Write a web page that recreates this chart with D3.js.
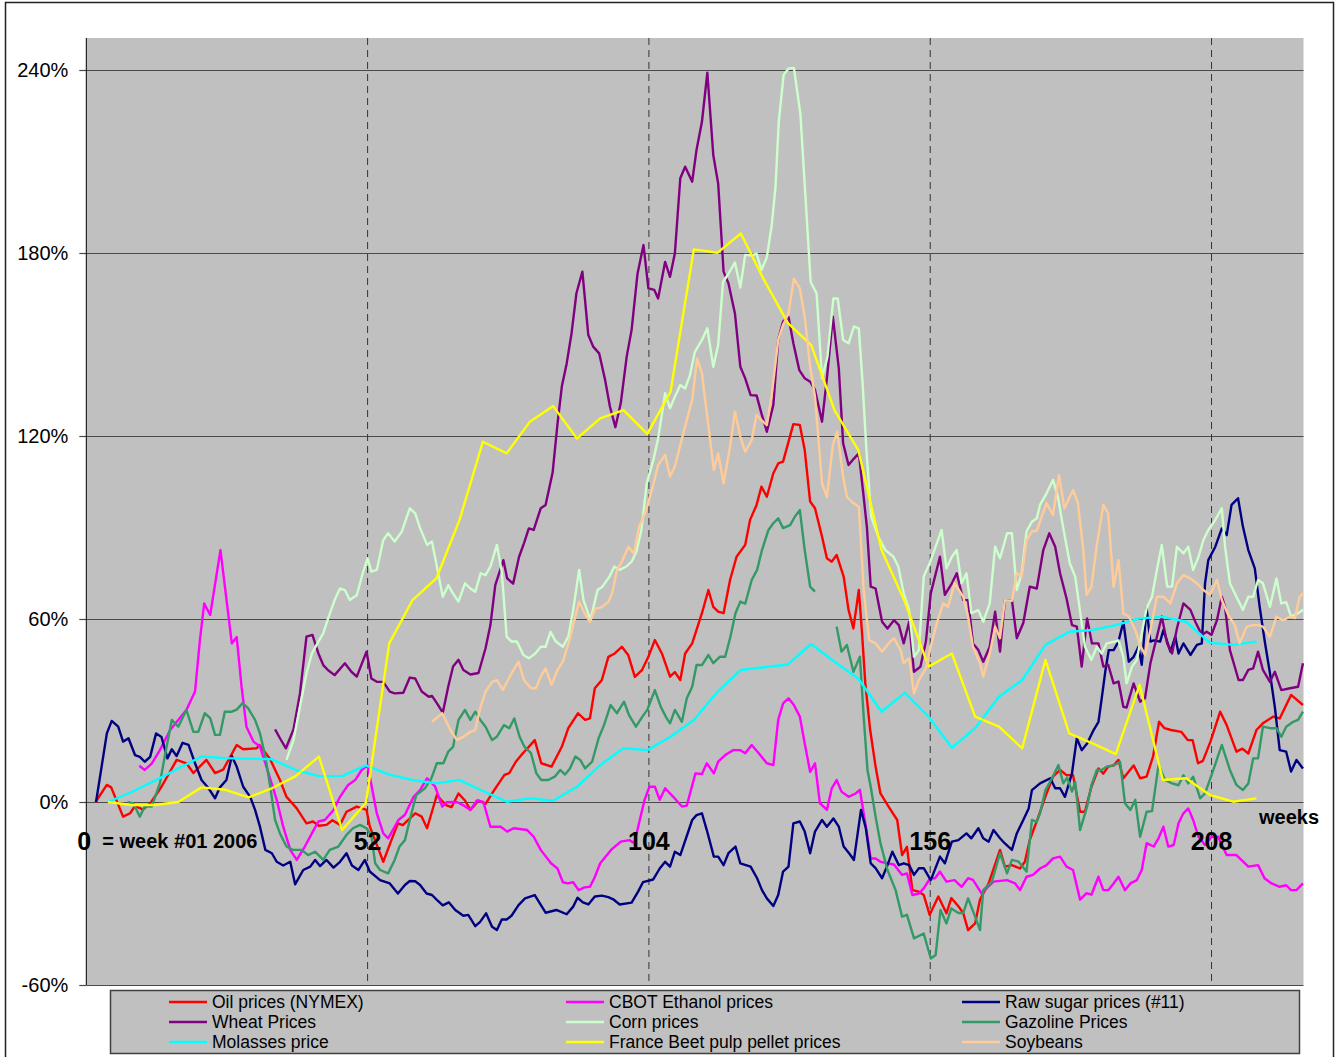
<!DOCTYPE html>
<html>
<head>
<meta charset="utf-8">
<script src="https://cdn.jsdelivr.net/npm/d3@7"></script>
<style>
  body { margin: 0; background: #fff; }
  svg { display: block; font-family: Arial, "Liberation Sans", sans-serif; }
</style>
</head>
<body>
<div id="graf"></div>
<script>
// semanas de las series mensuales (melaza y pulpa de remolacha)
const semanasMes = [4, 8.3, 12.7, 17, 21.3, 25.7, 30, 34.3, 38.7, 43, 47.3, 51.7, 56, 60.3, 64.7, 69, 73.3, 77.7, 82, 86.3,
  90.7, 95, 99.3, 103.7, 108, 112.3, 116.7, 121, 125.3, 129.7, 134, 138.3, 142.7, 147, 151.3, 155.7, 160, 164.3, 168.7, 173,
  177.3, 181.7, 186, 190.3, 194.7, 199, 203.3, 207.7, 212, 216.3];

const melaza = [0, 3.2, 7, 11, 14.9, 14.4, 14.2, 14, 10.5, 8.5, 8.5, 12, 9, 7.2, 6.1, 7.2, 3.6, 0.1, 1.2, 0.4,
  5, 12.1, 17.6, 17, 21.4, 26.9, 36.2, 43.3, 44.2, 45.1, 51.8, 46, 40.5, 29.6, 35.8, 28, 17.8, 24.2, 34.5, 40,
  51.5, 55.8, 56.4, 58, 60.2, 60.7, 59.1, 52.2, 51.5, 52.6];

const pulpa = [0, -1, -1, 0, 4.8, 4, 1.5, 4.5, 8.5, 14.9, -9.2, -0.2, 52, 66.2, 73.3, 92.5, 118.1, 114.3, 124.7, 129.8,
  119.2, 125.8, 128.5, 120.7, 134.5, 181.2, 180.1, 186.4, 171.1, 157, 149.8, 128.5, 115.4, 82.6, 65.7, 44.4, 48.7, 28, 24.7, 17.6,
  46.6, 22.5, 19.2, 15.7, 38.4, 7.2, 7.8, 2.3, 0.1, 1.2];

// series semanales: [semana, %]
const petroleo = [[1.7,0],[3.8,5.6],[4.6,4.8],[6.8,-4.8],[8.1,-3.7],[9,-1.3],[10.5,-2.5],[12,0],[13.9,5],[16.7,13.8],[18.5,12.7],
  [19.8,9.5],[22.2,13.8],[23.8,9.5],[25.3,10.6],[27.8,18.7],[29,17.3],[31.5,17.6],[32,18.7],[33.9,14.3],[35.8,7.2],[37,1.7],
  [38.9,-2.1],[40.7,-7],[41.9,-6.4],[43,-7.8],[44.4,-7.5],[45.5,-6],[46.9,-7.5],[48.1,-3.2],[50,-1.5],[51.8,-2.6],[52.4,-8],
  [54.9,-19.6],[56.4,-12.5],[57.6,-7],[58.5,-7.6],[60.8,-3.7],[62,-4.8],[63,-8.6],[64.8,2.3],[65.7,0.5],[66.6,-1.1],[67.5,-1.7],
  [68.8,2.8],[70,0.5],[71,-2.6],[72.5,0.5],[73.8,-0.6],[75.4,3.9],[77.3,8.9],[78.2,9.5],[79.4,13.2],[80.7,16],[81.6,17.7],
  [82.9,20.3],[84.1,12.7],[86,11.6],[87.9,18.1],[89.1,24.2],[90.9,29.1],[92.2,26.9],[93.1,27.4],[94,37.3],[95.3,40],[96.5,47.6],
  [97.7,48.7],[99,50.9],[100.2,48.1],[101.4,41],[102.7,43.2],[103.9,47.6],[105.1,53.1],[106.4,48.7],[107.9,41.1],[108.8,42.6],
  [109.8,40],[110.7,48.7],[112,52],[113.8,61.9],[115,69.5],[115.9,64],[116.8,62.4],[117.8,61.9],[119,72.8],[120.2,80.4],
  [121.8,84.3],[122.7,92.5],[123.9,97.4],[124.8,103.4],[125.8,100.1],[127,107.8],[127.9,111],[128.8,111.6],[130.7,123.9],
  [131.9,123.6],[132.8,115.4],[133.8,98.5],[134.7,96.3],[136,87],[136.9,79.9],[137.8,78.8],[138.7,81],[140,73.9],[140.9,63],
  [141.8,56.9],[142.8,69.5],[143.4,55.3],[144,38.9],[144.9,23.6],[145.9,11.6],[146.8,2.8],[148.3,-1.5],[149.9,-5.9],[150.8,-17.4],
  [151.7,-14.7],[152.7,-28.9],[153.9,-29.4],[154.8,-30.5],[155.9,-37],[157.5,-31],[159,-36.5],[159.9,-31.5],[161.2,-34.2],
  [162.1,-36.4],[163,-42],[164.3,-39.8],[165.2,-32],[166.8,-26.7],[168.9,-15.7],[169.8,-21.2],[171.1,-20.7],[172.6,-21.8],
  [173.5,-19.6],[174.4,-12.5],[176,-4.8],[177.5,2.8],[178.7,8.3],[180,10.5],[181.2,8.8],[182.4,8.8],[183.7,-3.2],[184.6,-3.2],
  [185.8,5],[187.1,11],[188,9.3],[188.9,11.6],[189.9,12],[190.8,13.8],[191.7,7.8],[193.6,12],[194.8,7.8],[196,8.3],[197.2,15],
  [198.3,26.3],[199.3,24.2],[200.5,23.6],[202.4,23],[203.6,20.3],[204.5,20.3],[205.5,12.7],[206.4,13.5],[207.8,19.8],
  [209.6,29.6],[210.8,25.2],[212.6,16.5],[213.7,17.5],[214.8,15.9],[216.3,23.6],[217.5,25.8],[219.4,28],[220.6,27.4],
  [222.7,35.1],[224.9,31.8]];

const etanol = [[9.8,11.9],[10.8,10.5],[12.1,12.6],[13.6,17],[15.5,23.6],[17,26.9],[18.5,30.2],[20.1,36.2],[21,53.1],[21.8,65.1],
  [22.9,61.3],[24.8,82.6],[26.9,52],[27.8,54.1],[28.7,37.8],[29.6,24.7],[30.9,19.8],[32.1,18.2],[33.6,9.9],[35.2,0.7],[36.4,-8.1],
  [37.7,-15.7],[38.9,-19],[40.4,-14.6],[41.7,-10.3],[42.9,-6.4],[44.1,-5.9],[45.7,-2.6],[46.9,1.7],[48.4,5.6],[49.7,7.2],
  [50.9,10.5],[52,12.1],[53.7,-3.7],[54.9,-10.3],[55.8,-11.9],[57.7,-5.9],[58.9,-4.2],[60.5,1.7],[61.7,3.9],[63,7.8],[64.5,5],
  [65.8,-1.5],[66.6,-0.1],[68.5,0],[69.7,-1.1],[71,-2.6],[72.2,0.5],[73.4,0],[74.7,-8.1],[76.6,-8.1],[77.8,-9.7],[79,-8.6],
  [81.5,-9.2],[82.7,-11.4],[84,-15.7],[85.9,-20.1],[87.1,-21.8],[88.1,-26.3],[89,-26.7],[90,-26.3],[91,-28.9],[92.1,-28],
  [93.1,-27.8],[93.9,-25],[95,-20.1],[97,-15.7],[98.8,-13],[100.4,-12.5],[101.3,-13.5],[102.3,-6],[103.2,0.7],[104.1,5],
  [105.1,5],[106,0.7],[107,4.5],[108.5,1.7],[110.1,-1.5],[111,-1.2],[112.6,9.4],[113.8,9.2],[114.7,12.7],[116,9.4],[116.8,13.2],
  [118.1,15.4],[119.6,17],[120.9,17],[121.8,16],[123,18.7],[124.3,16],[125.8,12.7],[127,12.1],[127.9,26.9],[128.8,32.3],
  [129.8,34],[130.8,31.8],[131.9,28],[132.8,19.2],[133.8,9.9],[134.7,12.7],[135.6,-0.4],[136.9,-2.6],[137.8,4.5],[138.7,7.2],
  [139.6,3.4],[140.9,1.7],[142.2,2.8],[143,4],[143.7,-3.7],[144.4,-11.4],[145,-18.5],[145.9,-18.5],[146.8,-19.6],[148.1,-20.1],
  [149.3,-20.5],[150.8,-23.9],[151.7,-23.4],[152.7,-30.5],[153.9,-30],[154.8,-28.3],[156,-25],[156.9,-25],[157.8,-22.8],
  [159,-26.1],[160.5,-25.6],[161.8,-27.8],[163,-25],[163.9,-25.5],[165.5,-30],[166.4,-28.3],[167.7,-26.1],[170.2,-25.6],
  [171.7,-26.7],[172.6,-28.9],[173.8,-24.5],[175,-23.9],[176.3,-21.8],[177.5,-20.7],[178.7,-18.5],[180,-17.9],[181.2,-21.2],
  [182.4,-22.3],[183.7,-32],[184.9,-29.9],[185.8,-30.4],[187.1,-24.5],[188,-28.9],[188.9,-28.9],[189.9,-26.7],[190.8,-24.5],
  [192,-28.9],[193,-26.7],[194.2,-25.6],[195.1,-22.3],[196,-13.5],[197.3,-14.6],[198.2,-11.9],[199.1,-8.1],[200,-14.6],
  [201,-14.1],[201.9,-7],[202.8,-3.7],[203.7,-2.1],[204.6,-5.9],[205.6,-11.4],[206.8,-14.1],[208,-11.4],[209.2,-11.4],
  [210.8,-17.4],[212.6,-17.4],[214.8,-21.2],[216.6,-20.7],[217.8,-25],[219.1,-26.7],[220.6,-27.8],[221.8,-27.3],[222.7,-28.9],
  [223.7,-28.9],[224.9,-26.7]];

const azucar = [[1.8,0],[3.8,22.5],[4.7,26.6],[5.9,24.7],[6.8,19.8],[7.8,20.9],[9,15.4],[9.9,14.8],[10.8,13.2],[11.8,14.8],
  [12.9,22.5],[13.9,21.3],[15,14.3],[15.8,17.3],[16.7,15.1],[17.8,19.4],[18.9,18.7],[20.1,12.7],[21.3,7.2],[22.6,4.5],[23.8,1.2],
  [24.7,4.8],[25.9,7.2],[26.9,15.1],[27.8,11.6],[29,5],[30.3,1.7],[31.2,-2.6],[32.1,-8.1],[33.1,-15.7],[34.3,-16.8],[35.2,-19.6],
  [36.4,-20.8],[37.7,-19.6],[38.6,-27],[40.1,-22.3],[41.4,-21.2],[42.3,-19],[43.2,-21],[44.4,-19],[45.7,-21.5],[46.9,-19.6],
  [48.1,-16.8],[49.1,-20.8],[50.3,-22.3],[51.5,-19],[52.4,-22.8],[54.3,-25.6],[56.1,-26.7],[57.6,-30],[58.9,-27.2],[59.8,-25.9],
  [60.8,-26],[61.7,-27.2],[62.9,-30],[63.9,-30.5],[64.8,-32.1],[65.9,-33.9],[67,-32.9],[68.2,-35.4],[69.7,-37.3],[70.6,-37],
  [71.9,-40.7],[72.8,-39.3],[73.9,-36.5],[75,-40.9],[75.9,-42],[76.8,-38.5],[77.7,-38.5],[78.6,-37.3],[79.9,-33.8],[81.1,-31.6],
  [82.9,-30.5],[84.9,-36.3],[86.9,-35.4],[88.8,-36.8],[90,-34.3],[90.8,-31.4],[91.8,-32.9],[92.8,-33.6],[94,-31],[95.3,-30.7],
  [96.5,-31.2],[97.4,-31.9],[98.6,-33.6],[100.8,-33],[102,-29.4],[102.9,-26.3],[104.8,-25.4],[106,-21.8],[107,-19.6],
  [107.9,-21.2],[108.8,-16.3],[109.8,-17.4],[112,-5.9],[112.8,-4.3],[113.8,-3.7],[114.7,-9.2],[116,-17.9],[116.8,-17.9],
  [117.8,-20.7],[118.7,-16.8],[120,-14.6],[120.9,-20.1],[122.8,-21.2],[124,-25],[124.9,-28.9],[125.8,-31.6],[127,-34.1],
  [127.9,-30.5],[128.8,-22.8],[129.8,-21.2],[130.7,-7],[131.9,-6.4],[132.8,-9.7],[133.8,-16.8],[134.7,-9.7],[136,-5.9],
  [136.9,-8.1],[138.1,-5.4],[139.1,-8.1],[140,-14.6],[141,-16.8],[141.9,-19],[143.2,-2.6],[144.1,-8.6],[145,-20.1],[145.9,-21.7],
  [147.1,-25],[148.1,-20.7],[149,-16.3],[150.2,-20.7],[151.1,-20.1],[152.1,-20.7],[153,-23.9],[153.9,-21.7],[154.8,-21.7],
  [156.1,-25.6],[157.8,-17.9],[158.7,-20.1],[160,-13],[161.2,-12.5],[162.7,-10.3],[163.6,-11.9],[164.9,-8.6],[165.8,-11.9],
  [166.8,-13],[167.7,-9.2],[168.9,-11.9],[169.8,-13.6],[171.1,-15.7],[172,-10.3],[173.2,-5.9],[174.2,-2.1],[174.8,3.9],
  [176.3,6.1],[178.2,7.8],[179.1,4.5],[180,4.5],[180.9,1.7],[182.2,9.4],[183.1,20.9],[184,17],[185,19.2],[186.2,23.6],
  [187.1,26.3],[187.7,34],[188.4,43.3],[189,49.8],[189.9,49.8],[190.8,52.6],[191.7,59.1],[192.7,46],[193.6,47.6],[194.5,50.9],
  [195.1,45],[196,63.5],[196.7,52.6],[197.3,53],[198.5,52.6],[199.1,56.4],[200.4,49.3],[201.3,54.2],[201.9,48.7],[202.8,52],
  [204.1,48.2],[205.3,51.5],[206.2,52],[206.8,71.7],[207.4,79.3],[208.7,83.7],[209.9,89.7],[210.8,87.5],[211.7,97.4],
  [212.9,99.6],[213.8,90.3],[214.8,82.6],[216,76.6],[216.9,64],[217.8,53.1],[218.8,42.2],[219.7,31.2],[220.6,17],[221.8,16.5],
  [222.7,10],[223.7,13.8],[224.9,11]];

const trigo = [[34.9,23.8],[35.8,20.9],[36.9,17.6],[38.3,23.8],[39.5,35.6],[40.7,54.2],[41.8,54.8],[42.9,48.7],[43.8,44.9],
  [44.7,43.2],[45.9,41.6],[47.8,45.5],[49,42.7],[50,41.1],[51.8,49.3],[52.7,40.5],[53.7,39.4],[54.9,39.4],[56.1,36.2],[57,35.6],
  [58.6,35.8],[59.8,40.8],[60.8,40.5],[62,36.2],[63.3,34.5],[63.9,34.8],[64.8,32.4],[65.9,29.3],[66.9,37.8],[67.8,44.4],
  [68.8,46.6],[69.7,43.3],[71,41.8],[72.5,42.3],[73.8,50.4],[74.7,58],[75.6,71.1],[77.1,79.3],[77.8,73.3],[78.9,71.6],[80,80.4],
  [80.9,84.8],[81.8,89.7],[82.7,89.2],[84,96.3],[84.9,97.4],[86.2,108],[87.1,124],[87.9,136.2],[88.8,143.8],[89.7,153.7],
  [90.6,166.8],[91.7,173.9],[92.8,153.1],[93.7,149.3],[94.8,147.1],[95.9,138.4],[96.8,129.6],[97.8,122.9],[98.8,130.8],
  [99.9,146.1],[100.8,154.8],[101.9,173.3],[103,182.6],[103.9,168.4],[105,167.9],[105.7,165.1],[107,177.1],[107.9,172.2],
  [108.8,179.9],[109.8,204.5],[110.7,208.3],[112,203.4],[112.8,213.8],[113.8,223],[114.8,239.1],[115.9,212.1],[116.8,202.8],
  [117.8,173.9],[118.7,170.1],[119.9,160.2],[120.9,142.7],[121.8,138.9],[122.8,133.4],[123.9,133.3],[124.8,127.4],[125.8,121.4],
  [127,130.2],[127.9,151.5],[128.8,157.5],[129.8,159.1],[130.7,150.4],[131.8,141.6],[132.8,138.9],[133.8,137.8],[134.7,135.1],
  [136,124.7],[136.9,138.9],[138,159.1],[139.1,142.2],[139.9,117.6],[140.9,110.5],[141.9,112.6],[142.8,114.3],[143.7,100],
  [144.3,90],[145,70.6],[145.9,70],[147.1,59.1],[148.1,56.9],[149.3,59.6],[150.2,58],[151.1,52],[152.1,59.1],[153,42.7],
  [154.2,44.4],[155.2,52.6],[156.1,68.4],[157.8,80.4],[158.7,67.9],[160,71.7],[160.9,75],[162.1,66.2],[163,66.2],[163.9,52],
  [164.9,49.8],[165.8,46],[167,50.9],[168,62.4],[168.9,49.3],[169.8,66.2],[171.1,66.2],[172,53.7],[173.2,58.7],[174.4,70.6],
  [175.7,70],[176.9,82.6],[178,88.1],[179.1,83.7],[180,75],[181.2,66.7],[182.2,58],[183.1,57.5],[184,44.4],[185,60.2],[185.9,52],
  [187.1,52],[188,44.4],[188.9,45],[189.9,38.9],[190.8,39.5],[191.7,31.2],[192.3,31],[193.6,38.9],[194.8,32.9],[195.7,34],
  [196.7,45.5],[197.9,54.2],[198.8,60.8],[199.8,52],[200.7,48.7],[201.6,56.9],[202.8,65.1],[204.1,63],[205,59.1],[206.2,54.8],
  [207.1,55.8],[208,54.8],[209,59.6],[209.9,67.3],[210.5,64],[211.4,49.8],[213,40],[213.8,40],[214.8,43.3],[215.7,43.8],
  [216.6,49.3],[217.5,43.3],[218.8,39.4],[219.7,42.7],[220.9,36.7],[222.5,37.3],[224,37.8],[224.9,45.5]];

const maiz = [[37,13.8],[38.3,20.3],[39.5,31.2],[40.7,42.2],[41.7,48.7],[42.9,52.6],[43.8,55.3],[44.7,60.2],[45.9,66.2],
  [46.9,70],[47.8,69.5],[48.7,66.2],[50,67.8],[51.1,75],[52,79.9],[52.7,75.5],[53.7,76.1],[54.9,85.9],[55.8,88.1],[57,85.4],
  [58.3,88.6],[59.8,96.3],[60.8,94.6],[61.7,89.8],[63,84.3],[63.9,85.4],[64.8,77.2],[65.9,67.3],[66.9,71.1],[67.8,68.3],
  [68.8,65.7],[70,71.7],[71,70],[71.9,68.9],[72.9,75],[73.8,74.4],[74.7,77.2],[75.9,84.3],[76.8,75.5],[77.7,54.2],[78.6,52.6],
  [79.6,52.6],[80.8,48.2],[81.8,47.1],[83,48.7],[84,50.9],[84.9,50.9],[85.8,55.8],[86.8,52.6],[88.1,50.9],[89.1,54.2],[90,63],
  [91.1,76.1],[91.9,66.2],[93.2,59.7],[94.5,69.5],[95.4,70.6],[96.7,73.9],[97.6,77.2],[98.6,76.1],[99.8,77.2],[100.8,78.8],
  [101.7,82.1],[102.6,89.2],[103.6,104.5],[104.8,112],[105.7,119.2],[107,134],[107.9,129.1],[108.8,132.9],[109.8,136.7],
  [110.7,135.6],[111.6,140],[112.5,147.6],[113.8,151.5],[114.8,155.3],[115.9,142.7],[116.8,149.8],[117.7,170.5],[118.7,173.2],
  [119.9,176.9],[120.9,168.7],[121.8,179.4],[123,179.2],[123.9,179.8],[124.8,174.4],[125.8,178.6],[126.7,189.1],[127.4,201.7],
  [128,223],[128.9,238.4],[129.8,240.5],[130.8,240.7],[132,225.6],[132.9,199.5],[133.9,170.5],[135,166.7],[136,138.9],
  [137,145.9],[138.1,165.1],[138.9,165.1],[139.9,151.5],[140.9,150.4],[141.9,155.9],[142.8,155.3],[143.5,137.3],[144.2,115.4],
  [145.1,93.6],[146.4,87],[147.7,82.6],[149.2,80.4],[150.1,77.2],[151.1,68.4],[152.1,63],[153,47.6],[153.9,49.8],[154.8,73.9],
  [155.9,78.3],[157,83.7],[158.1,89.2],[159,76.6],[160,80.4],[160.9,82.6],[161.8,71.7],[162.7,75],[163.6,61.9],[164.9,62.9],
  [165.8,59.1],[167,65.1],[168,83.7],[168.9,79.9],[170.2,88.1],[171.1,88.1],[172,69.5],[172.9,75],[173.8,88.7],[174.8,91.9],
  [175.7,93],[176.3,97.4],[177.5,101.2],[178.7,105.6],[179.6,100.1],[180.6,89.7],[181.8,78.3],[182.8,73.9],[183.7,62.4],
  [184.6,50.9],[185.8,46.6],[186.8,50.9],[187.7,48.7],[188.6,52],[189.9,52.5],[190.8,53],[191.7,47.6],[192.3,38.9],[193.3,44.4],
  [194.2,46.6],[195.1,55.3],[196,63.5],[197,67.3],[197.9,76.1],[198.8,84.3],[199.8,70.6],[200.7,70.6],[201.6,83.7],[202.8,81.5],
  [203.7,83.7],[204.6,76.1],[205.6,80.4],[206.5,85.9],[207.4,89.2],[208.7,92.5],[209.9,96.3],[210.5,83.7],[211.4,71.7],
  [212.6,67.3],[213.8,63],[214.8,67.3],[215.7,67.3],[216.6,72.8],[217.5,71.7],[218.8,64],[220,73.3],[220.9,65.1],[221.8,65.5],
  [222.7,60.8],[224,61.9],[224.9,63]];

// null = hueco en la serie
const gasolina = [[7.6,0],[8.7,-0.5],[9.9,-4.8],[10.8,-1.5],[12.1,-1.5],[13.6,6.1],[14.5,14.9],[15.8,26.9],[17,24.7],[18.5,30.2],
  [19.8,23],[20.7,23],[21.9,29.1],[22.9,27.5],[23.8,22],[24.7,22],[25.6,29.6],[26.9,29.6],[27.8,30.3],[28.9,32.4],[29.9,30.8],
  [31.2,26.9],[32.1,22.5],[33.1,14.9],[34,5],[34.9,-5.9],[35.8,-10.3],[37,-14.6],[38.2,-15.7],[39.8,-15.7],[41,-17.4],
  [42.3,-16.3],[43.8,-19],[45,-15.7],[46.6,-14.6],[48.1,-10.8],[49.3,-8.6],[50.6,-7.5],[51.8,-8.6],[52.7,-11],[53.4,-20.1],
  [54.3,-22.3],[55.8,-23.4],[57,-19],[57.9,-14.6],[58.9,-12.5],[60.1,-3.7],[61,2.3],[62.6,4.5],[63.8,7.8],[64.8,12.7],[66,12.7],
  [66.9,16.5],[67.8,18.1],[68.8,26.9],[70,30.2],[71,26.9],[71.9,29.6],[72.8,27],[73.8,24.7],[75,20.3],[75.9,21.4],[77.2,25.2],
  [78.2,24.2],[79.1,27.4],[80.1,21.4],[81,18.1],[82.2,16],[83.2,9.4],[84.1,7.2],[85.4,7.2],[86.6,8.3],[87.6,10.5],[88.5,9],
  [89.4,11],[90.4,14.9],[91.3,13.8],[92.2,11],[93.5,13.2],[94.7,20.9],[95.7,25.2],[96.9,31.8],[98.1,29.1],[99.4,32.9],
  [100.3,28.6],[101.6,24.7],[102.8,28],[103.7,30.2],[105.1,36.7],[106.2,31.2],[107.3,27.4],[107.9,25.8],[108.8,30.2],
  [110.1,26.3],[111,34],[112,37.8],[112.8,44.9],[113.8,44.9],[115,48.2],[115.9,45.5],[117.1,47.6],[118.1,47.6],[119,53.7],
  [120,61.9],[120.9,65.7],[121.8,65],[123,72.8],[124,76.1],[124.9,82.6],[126.1,89.2],[127,91.4],[127.9,93],[128.8,89.8],
  [130.1,90.8],[131,93.6],[131.9,95.7],[132.8,82.6],[133.8,70.6],[134.7,69],[136.5,null],
  [138.7,57.5],[139.6,49.3],[140.6,51.5],[141.8,42.7],[143,47.6],[143.7,28],[144.4,10.5],[145,5],[145.9,-4.8],[146.8,-13.5],
  [148.1,-22.3],[149.6,-28.9],[150.8,-37.6],[151.7,-37],[153,-44.7],[154.8,-43.1],[156.1,-51.3],[157,-50.2],[157.9,-35.4],
  [159,-39.8],[159.9,-34.9],[161.2,-36.4],[162.1,-36.4],[163,-31.6],[164.3,-37.6],[165.2,-42],[165.8,-28.9],[167.4,-26.1],
  [168.9,-16.8],[170.2,-23.4],[171.1,-19],[172.3,-19.5],[173.8,-22.8],[174.8,-5.9],[175.7,-6.5],[176.3,-3.7],[177.3,3.9],
  [178.5,7.8],[179.7,12.1],[180.6,6.1],[181.3,8],[182.2,3.4],[182.8,6.6],[183.7,-9.2],[185,-1.5],[185.8,5.5],[186.8,10.5],
  [187.7,10.5],[188.6,11.6],[189.9,12],[191.1,13.2],[192,-0.4],[193,-2.6],[193.9,0.7],[194.8,-11.4],[196,-3.2],[197,-3],
  [198.2,12.1],[199.4,7.2],[200.7,6.1],[201.9,5.5],[202.8,8.8],[203.7,6.1],[204.6,8.3],[205.9,1.2],[206.8,2.8],[208,8.8],
  [209.9,18.7],[211.4,10.5],[212.6,5.6],[213.8,3.9],[214.8,6.1],[215.7,14.3],[216.6,14.3],[217.5,24.7],[218.8,24.2],[220,24.2],
  [220.9,21.4],[221.8,24.7],[223.1,26.3],[224,26.9],[224.9,29.6]];

const soja = [[63.9,26.3],[65.8,29.1],[67.3,23.6],[68.5,20.3],[69.7,21.4],[71,23],[71.9,23.6],[72.8,30.7],[73.8,36.2],[75,39.4],
  [75.9,40],[77,36.7],[78.4,41.6],[79.9,46],[80.9,40],[82.2,37.3],[83.1,37.3],[84,41.1],[84.9,43.8],[86,38.4],[87.1,43.3],
  [88.1,46],[89.4,53.7],[90.3,60.2],[91.1,65.7],[92.1,61.9],[93.1,59.1],[94.1,63.4],[95.3,63.9],[96.5,65.6],[97.2,68.4],
  [98.1,76.1],[99,78.8],[100.2,83.7],[101.2,81.5],[102.2,90.3],[103.4,95.2],[104.8,104],[105.7,110.5],[107,113.8],[107.9,106.7],
  [108.8,110],[110.1,119.2],[111,125.2],[112,131.8],[112.9,145.4],[113.8,140.5],[114.7,127.4],[116,108.9],[116.8,114.3],
  [117.8,104.5],[119,116.5],[119.9,128],[120.9,119.8],[121.8,114.9],[123,118.7],[123.9,126.9],[124.8,125.2],[125.8,123.6],
  [126.7,133.4],[127.9,151.5],[128.8,156.4],[129.8,160.2],[130.8,171.6],[131.9,168.4],[132.8,159.1],[133.8,142.7],[134.7,132.9],
  [136,104.5],[136.9,100],[138,117.1],[138.8,121.4],[139.9,106.7],[140.6,100],[141.8,98],[142.8,96.8],[143.7,69.5],[144.7,53.1],
  [145.9,52],[147.1,49.3],[148.3,52],[149.3,53.7],[150.5,49.8],[151.1,45.5],[152.1,47.1],[153,35.6],[153.9,40],[155.2,43.8],
  [156.1,51],[157.2,58.6],[158.4,65.1],[159.3,64],[160.5,71.7],[162.1,67.3],[163,60.8],[163.9,50.9],[165.2,45.5],[165.8,41.1],
  [167,48.7],[168,57.5],[168.9,53.7],[169.8,66.2],[171.1,66],[172,75],[172.9,74],[173.8,85.9],[174.8,88.7],[175.7,89],
  [176.6,93.6],[177.5,98],[178.7,94.1],[179.8,107.2],[180.8,96.3],[182.4,102.3],[183.3,98],[184.3,82.6],[184.9,67.9],[185.8,70.6],
  [186.8,84.3],[188,97.4],[188.9,94.6],[189.9,70.6],[190.8,79.3],[191.7,61.9],[192.7,60.8],[193.9,56.4],[194.8,51.5],[195.7,48.2],
  [196.7,56.4],[197.9,67.3],[199.1,67.3],[200.4,65.1],[201.6,71.7],[202.8,74.4],[204.1,73.3],[205.3,71.7],[206.5,69.5],
  [207.7,67.9],[209,72.8],[209.9,66.2],[211.1,61.3],[212.3,58],[213.2,52],[214.5,57.5],[215.7,58],[216.6,58],[217.5,57.5],
  [218.8,54.2],[220,60.8],[221.2,59.5],[222.5,60.8],[223.4,60.3],[224.3,67.3],[224.9,68.4]];

// ejes
const yTicks = [-60, 0, 60, 120, 180, 240];
const xTicks = [0, 52, 104, 156, 208];

const series = [
  { nombre: "Oil prices (NYMEX)", color: "#FF0000", datos: petroleo },
  { nombre: "CBOT Ethanol prices", color: "#FF00FF", datos: etanol },
  { nombre: "Raw sugar prices (#11)", color: "#000080", datos: azucar },
  { nombre: "Wheat Prices", color: "#800080", datos: trigo },
  { nombre: "Corn prices", color: "#CCFFCC", datos: maiz },
  { nombre: "Gazoline Prices", color: "#339966", datos: gasolina },
  { nombre: "Molasses price", color: "#00FFFF", datos: semanasMes.map((s, i) => [s, melaza[i]]) },
  { nombre: "France Beet pulp pellet prices", color: "#FFFF00", datos: semanasMes.map((s, i) => [s, pulpa[i]]) },
  { nombre: "Soybeans", color: "#FFCC99", datos: soja },
];

// Dimensiones
const anchoTotal = 1337;
const altoTotal = 1057;
const plotTop = 38;

const svg = d3.select("#graf").append("svg")
  .attr("width", anchoTotal)
  .attr("height", altoTotal);

// Escaladores
const x = d3.scaleLinear().domain([0, 225]).range([86.3, 1303.5]);
const y = d3.scaleLinear().domain([-60, 240]).range([985, 70]);

// marco exterior
svg.append("rect")
  .attr("x", 5.5).attr("y", 2.5)
  .attr("width", 1328).attr("height", 1070)
  .attr("fill", "white").attr("stroke", "#222").attr("stroke-width", 1.5);

// area del grafico
svg.append("rect")
  .attr("x", x(0)).attr("y", plotTop)
  .attr("width", x(225) - x(0)).attr("height", y(-60) - plotTop)
  .attr("fill", "#C0C0C0");

// rejilla horizontal
svg.append("g")
  .attr("transform", `translate(${x(0)},0)`)
  .call(d3.axisLeft(y).tickValues(yTicks).tickSize(-(x(225) - x(0))).tickFormat(""))
  .call(g => g.select(".domain").remove())
  .selectAll("line").attr("stroke", "#4a4a4a").attr("stroke-width", 1.2);

// lineas verticales punteadas
svg.append("g").selectAll("line").data(xTicks.slice(1)).join("line")
  .attr("x1", d => x(d)).attr("x2", d => x(d))
  .attr("y1", plotTop).attr("y2", y(-60))
  .attr("stroke", "#333").attr("stroke-width", 1)
  .attr("stroke-dasharray", "7,5");

// eje Y
const yAxis = svg.append("g")
  .attr("transform", `translate(${x(0)},0)`)
  .call(d3.axisLeft(y).tickValues(yTicks).tickSize(7).tickPadding(11).tickFormat(d => d + "%"));
yAxis.select(".domain").remove();
yAxis.selectAll("line").attr("stroke", "#4a4a4a").attr("stroke-width", 1.2);
yAxis.selectAll("text").attr("font-size", 20).attr("fill", "#000")
  .attr("font-family", "Arial, 'Liberation Sans', sans-serif");

svg.append("line")
  .attr("x1", x(0)).attr("x2", x(0))
  .attr("y1", plotTop).attr("y2", y(-60))
  .attr("stroke", "#000").attr("stroke-width", 1);

// series
const linea = d3.line()
  .defined(d => d[1] !== null)
  .x(d => x(d[0]))
  .y(d => y(d[1]));

svg.append("g").selectAll("path").data(series).join("path")
  .attr("d", d => linea(d.datos))
  .attr("fill", "none")
  .attr("stroke", d => d.color)
  .attr("stroke-width", 2.4)
  .attr("stroke-linejoin", "round");

// etiquetas de semanas
svg.append("g").selectAll("text").data(xTicks).join("text")
  .attr("x", d => x(d) - (d === 0 ? 2 : 0))
  .attr("y", 850)
  .attr("text-anchor", "middle")
  .attr("font-size", 25)
  .attr("font-weight", "bold")
  .text(d => d);

svg.append("text")
  .attr("x", x(0) + 16).attr("y", 848)
  .attr("font-size", 20).attr("font-weight", "bold")
  .text("= week #01 2006");

svg.append("text")
  .attr("x", 1259).attr("y", 824)
  .attr("font-size", 20).attr("font-weight", "bold")
  .text("weeks");

// leyenda
svg.append("rect")
  .attr("x", 110.5).attr("y", 990.5)
  .attr("width", 1189).attr("height", 63)
  .attr("fill", "#C0C0C0").attr("stroke", "#404040").attr("stroke-width", 1.5);

const colX = [169, 566, 962];
const filaY = [1002, 1022, 1042];

const item = svg.append("g").selectAll("g").data(series).join("g")
  .attr("transform", (d, i) => `translate(${colX[i % 3]},${filaY[Math.floor(i / 3)]})`);

item.append("line")
  .attr("x1", 0).attr("x2", 38)
  .attr("stroke", d => d.color).attr("stroke-width", 2.5);

item.append("text")
  .attr("x", 43).attr("dy", "0.35em")
  .attr("font-size", 17.5)
  .text(d => d.nombre);
</script>
</body>
</html>
